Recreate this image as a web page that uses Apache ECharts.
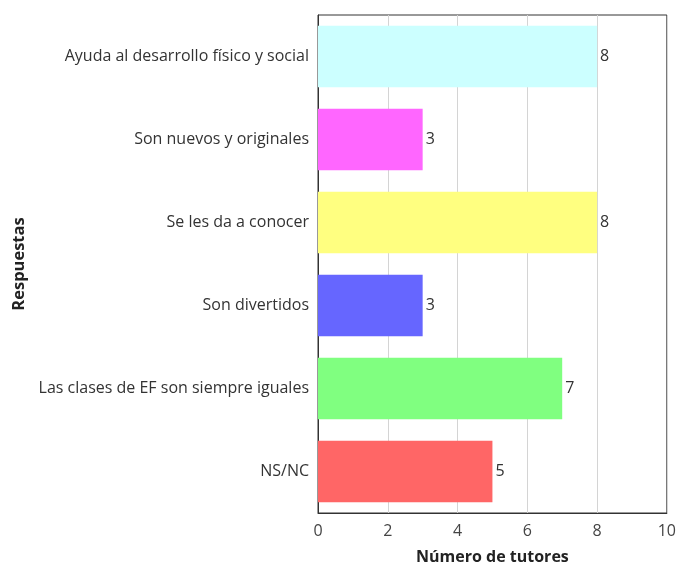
<!DOCTYPE html>
<html><head><meta charset="utf-8">
<script src="https://cdn.jsdelivr.net/npm/echarts@6/dist/echarts.min.js"></script>
<style>html,body{margin:0;padding:0;background:#fff}#c{width:679px;height:570px}</style>
</head><body><div id="c"></div>
<script>
const categories = ["Ayuda al desarrollo físico y social","Son nuevos y originales","Se les da a conocer","Son divertidos","Las clases de EF son siempre iguales","NS/NC"];
const values = [8,3,8,3,7,5];
const colors = ["#ccffff","#ff66ff","#ffff80","#6666ff","#80ff80","#ff6666"];
const xTicks = [0,2,4,6,8,10];
const xTitle = "Número de tutores";
const yTitle = "Respuestas";
const font = "'Open Sans', sans-serif";
const chart = echarts.init(document.getElementById('c'));
chart.setOption({
  animation:false,
  grid:{left:318,right:11,top:15,bottom:51,show:true,borderColor:'#333',borderWidth:1,backgroundColor:'transparent'},
  xAxis:{type:'value',min:xTicks[0],max:xTicks[xTicks.length-1],interval:2,
    name:xTitle,nameLocation:'middle',nameGap:36,
    nameTextStyle:{fontFamily:font,fontSize:16,fontWeight:'bold',color:'#222'},
    axisLine:{show:true,lineStyle:{color:'#333'}},axisTick:{show:false},
    axisLabel:{fontFamily:font,fontSize:16,color:'#444',margin:10},
    splitLine:{show:true,lineStyle:{color:'#d4d4d4'}}},
  yAxis:{type:'category',data:categories,inverse:true,
    name:yTitle,nameLocation:'middle',nameGap:289,nameRotate:90,
    nameTextStyle:{fontFamily:font,fontSize:16.5,fontWeight:'bold',color:'#222'},
    axisLine:{show:true,lineStyle:{color:'#333'}},axisTick:{show:false},
    axisLabel:{fontFamily:font,fontSize:16,color:'#333',margin:9},
    splitLine:{show:false}},
  series:[{type:'bar',barCategoryGap:'26%',
    data:values.map((v,i)=>({value:v,itemStyle:{color:colors[i]}})),
    label:{show:true,position:'right',distance:3,fontFamily:font,fontSize:16,color:'#333'}}]
});
</script></body></html>
